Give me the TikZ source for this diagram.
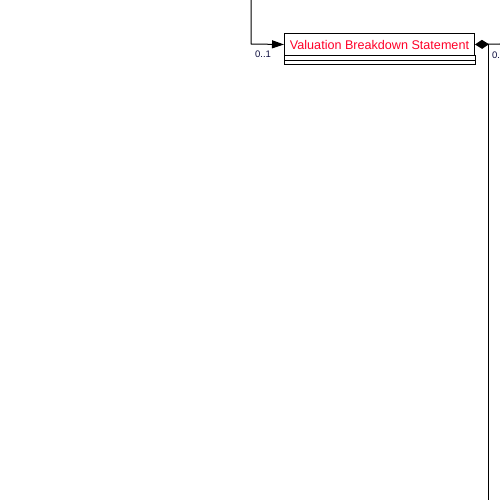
\documentclass[tikz,border=0pt]{standalone}
\usepackage{fontspec}
\setmainfont{Liberation Sans}
\usetikzlibrary{arrows.meta,positioning}
\definecolor{labelnavy}{RGB}{10,10,60}
\definecolor{classred}{RGB}{255,0,40}
\tikzset{
  classbox/.style={draw,line width=1pt,minimum width=190pt,minimum height=22pt,
    inner sep=0pt,text=classred,font=\fontsize{12.6}{14}\selectfont},
  mult/.style={text=labelnavy,font=\fontsize{9.5}{10}\selectfont,inner sep=0pt},
  conn/.style={line width=1pt},
}
\begin{document}
\begin{tikzpicture}[x=1pt,y=-1pt]
  \useasboundingbox (0,0) rectangle (500,500);
  \node [classbox,anchor=north west] (stmt) at (284,33) {Valuation Breakdown Statement};
  % compartments
  \draw [line width=1pt] (stmt.south west) rectangle ([yshift=-9pt]stmt.south east);
  \draw [line width=1pt] ([yshift=-4.5pt]stmt.south west) -- ([yshift=-4.5pt]stmt.south east);
  \coordinate (top) at (251,0);
  \coordinate (bend) at (251,44);
  \coordinate (rend) at (500,44);
  \coordinate (fork) at (488,44);
  \coordinate (down) at (488,500);
  \draw [conn,-{Triangle[length=12pt,width=8pt]}] (top) -- (bend) -- (stmt.west);
  \draw [conn,{Diamond[length=14pt,width=9pt]}-] (stmt.east) -- (rend);
  \draw [conn] (fork) -- (down);
  \node [mult] (m1) at (263,54) {0..1};
  \node [mult,anchor=west] (m2) at (492,55) {0..1};
\end{tikzpicture}
\end{document}
